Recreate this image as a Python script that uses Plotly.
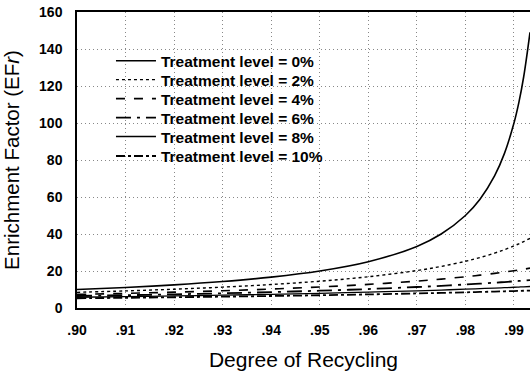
import plotly.graph_objects as go

recycling = [0.900, 0.910, 0.920, 0.930, 0.940, 0.950, 0.960, 0.970, 0.975, 0.980,
             0.983, 0.986, 0.988, 0.990, 0.991, 0.992, 0.9933]
ef_0 = [10.0, 11.1, 12.5, 14.3, 16.7, 20.0, 25.0, 33.3, 40.0, 50.0,
        58.8, 71.4, 83.3, 100.0, 111.0, 125.0, 149.0]
ef_2 = [8.47, 9.24, 10.16, 11.29, 12.69, 14.49, 16.89, 20.24, 22.47, 25.25,
        27.28, 29.66, 31.49, 33.56, 34.70, 35.92, 37.64]
ef_4 = [7.35, 7.91, 8.56, 9.33, 10.25, 11.36, 12.76, 14.53, 15.63, 16.89,
        17.76, 18.71, 19.41, 20.16, 20.56, 20.97, 21.54]
ef_6 = [6.49, 6.92, 7.40, 7.95, 8.59, 9.35, 10.25, 11.34, 11.98, 12.69,
        13.16, 13.67, 14.03, 14.41, 14.61, 14.81, 15.08]
ef_8 = [5.81, 6.14, 6.51, 6.93, 7.40, 7.94, 8.56, 9.29, 9.71, 10.16,
        10.46, 10.77, 10.98, 11.21, 11.33, 11.45, 11.61]
ef_10 = [5.26, 5.52, 5.81, 6.13, 6.49, 6.90, 7.35, 7.87, 8.16, 8.47,
         8.67, 8.88, 9.03, 9.17, 9.25, 9.33, 9.43]

series_names = ["Treatment level = 0%", "Treatment level = 2%", "Treatment level = 4%",
                "Treatment level = 6%", "Treatment level = 8%", "Treatment level = 10%"]
series_values = [ef_0, ef_2, ef_4, ef_6, ef_8, ef_10]
dashes = ["solid", "dot", "dash", "longdashdot", "solid", "dashdot"]
widths = [1.6, 1.4, 1.6, 1.8, 1.3, 1.8]

x_ticks = [0.90, 0.91, 0.92, 0.93, 0.94, 0.95, 0.96, 0.97, 0.98, 0.99]
x_tick_labels = [".90", ".91", ".92", ".93", ".94", ".95", ".96", ".97", ".98", ".99"]
y_ticks = [0, 20, 40, 60, 80, 100, 120, 140, 160]

legend_ids = ["legend", "legend2", "legend3", "legend4", "legend5", "legend6"]
legend_rows_y = [0.834, 0.770, 0.706, 0.642, 0.578, 0.512]

fig = go.Figure()
for name, vals, d, w, lg in zip(series_names, series_values, dashes, widths, legend_ids):
    fig.add_trace(go.Scatter(x=recycling, y=vals, mode="lines", name=name, legend=lg,
                             line=dict(color="black", dash=d, width=w, shape="spline")))

legend_style = dict(x=0.075, xanchor="left", yanchor="middle",
                    bgcolor="rgba(0,0,0,0)",
                    font=dict(size=15.5, family="Liberation Sans, Arial", weight="bold"),
                    itemwidth=40, tracegroupgap=0)
legend_layout = {lg: dict(legend_style, y=yy) for lg, yy in zip(legend_ids, legend_rows_y)}

fig.update_layout(
    width=530, height=373,
    margin=dict(l=77, r=0, t=12, b=65, autoexpand=False),
    paper_bgcolor="white", plot_bgcolor="white",
    font=dict(family="Liberation Sans, Arial, sans-serif", color="black"),
    showlegend=True,
    xaxis=dict(range=[0.9, 0.9933], tickvals=x_ticks, ticktext=x_tick_labels,
               showgrid=True, gridcolor="#888", griddash="1px,3px", gridwidth=1,
               showline=True, linecolor="black", linewidth=1.5, mirror=True,
               ticks="", zeroline=False, ticklabelstandoff=8,
               tickfont=dict(size=14, weight="bold"),
               title=dict(text="Degree of Recycling", font=dict(size=21), standoff=16)),
    yaxis=dict(range=[0, 160], tickvals=y_ticks,
               showgrid=True, gridcolor="#888", griddash="1px,3px", gridwidth=1,
               showline=True, linecolor="black", linewidth=1.5,
               ticks="", zeroline=False, ticklabelstandoff=10,
               tickfont=dict(size=14, weight="bold"),
               title=dict(text="Enrichment Factor (EF<i>r</i>)", font=dict(size=20.5), standoff=15)),
    **legend_layout,
)

fig.write_html("out.html", config={"displayModeBar": False},
               post_script="document.body.style.margin='0';")
